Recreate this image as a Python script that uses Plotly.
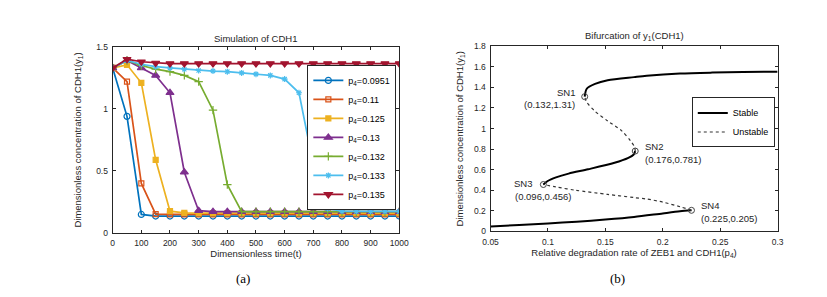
import plotly.graph_objects as go

# ---------------- Panel (a) data ----------------
t = [0, 50, 100, 150, 200, 250, 300, 350, 400, 450, 500,
     550, 600, 650, 700, 750, 800, 850, 900, 950, 1000]

p4_labels = ["p<sub>4</sub>=0.0951", "p<sub>4</sub>=0.11", "p<sub>4</sub>=0.125",
             "p<sub>4</sub>=0.13", "p<sub>4</sub>=0.132", "p<sub>4</sub>=0.133",
             "p<sub>4</sub>=0.135"]

y_0951 = [1.33, 0.94, 0.15, 0.137, 0.137, 0.137, 0.137, 0.137, 0.137, 0.137, 0.137,
          0.137, 0.137, 0.137, 0.137, 0.137, 0.137, 0.137, 0.137, 0.137, 0.137]
y_011 = [1.33, 1.22, 0.40, 0.152, 0.15, 0.15, 0.15, 0.15, 0.15, 0.15, 0.15,
         0.15, 0.15, 0.15, 0.15, 0.15, 0.15, 0.15, 0.15, 0.15, 0.15]
y_0125 = [1.33, 1.355, 1.21, 0.59, 0.176, 0.163, 0.16, 0.16, 0.16, 0.16, 0.16,
          0.16, 0.16, 0.16, 0.16, 0.16, 0.16, 0.16, 0.16, 0.16, 0.16]
y_013 = [1.33, 1.39, 1.33, 1.27, 1.13, 0.49, 0.18, 0.172, 0.172, 0.172, 0.172,
         0.172, 0.172, 0.172, 0.172, 0.172, 0.172, 0.172, 0.172, 0.172, 0.172]
y_0132 = [1.33, 1.39, 1.35, 1.32, 1.30, 1.27, 1.22, 0.99, 0.39, 0.172, 0.172,
          0.172, 0.172, 0.172, 0.172, 0.172, 0.172, 0.172, 0.172, 0.172, 0.172]
y_0133 = [1.33, 1.39, 1.36, 1.34, 1.33, 1.32, 1.31, 1.305, 1.30, 1.29, 1.28,
          1.27, 1.24, 1.13, 0.55, 0.197, 0.176, 0.174, 0.174, 0.174, 0.174]
y_0135 = [1.33, 1.40, 1.38, 1.37, 1.365, 1.365, 1.365, 1.365, 1.365, 1.365, 1.365,
          1.365, 1.365, 1.365, 1.365, 1.365, 1.365, 1.365, 1.365, 1.365, 1.365]

series_a = [y_0951, y_011, y_0125, y_013, y_0132, y_0133, y_0135]
colors_a = ["#0072BD", "#D95319", "#EDB120", "#7E2F8E", "#77AC30", "#4DBEEE", "#A2142F"]
symbols_a = ["circle-open", "square-open", "square", "triangle-up",
             "cross-thin-open", "asterisk-open", "triangle-down"]
sizes_a = [6, 5, 5, 7, 6, 5, 7]

xticks_a = [0, 100, 200, 300, 400, 500, 600, 700, 800, 900, 1000]
yticks_a = [0, 0.5, 1, 1.5]
yticklabels_a = ["0", "0.5", "1", "1.5"]

# ---------------- Panel (b) data ----------------
stable_low_p = [0.05, 0.075, 0.10, 0.125, 0.15, 0.175, 0.20, 0.215, 0.225]
stable_low_y = [0.048, 0.062, 0.078, 0.095, 0.115, 0.14, 0.175, 0.195, 0.205]

unstable_low_p = [0.225, 0.215, 0.20, 0.186, 0.175, 0.152, 0.124, 0.107, 0.096]
unstable_low_y = [0.205, 0.24, 0.285, 0.315, 0.329, 0.36, 0.40, 0.432, 0.456]

stable_mid_p = [0.096, 0.0998, 0.107, 0.118, 0.135, 0.158, 0.170, 0.1745, 0.176]
stable_mid_y = [0.456, 0.49, 0.525, 0.562, 0.604, 0.667, 0.715, 0.745, 0.781]

unstable_high_p = [0.176, 0.1755, 0.172, 0.164, 0.152, 0.141, 0.1335, 0.132]
unstable_high_y = [0.781, 0.82, 0.88, 0.98, 1.074, 1.168, 1.26, 1.31]

stable_high_p = [0.132, 0.1338, 0.141, 0.152, 0.175, 0.186, 0.215, 0.243, 0.27, 0.30]
stable_high_y = [1.31, 1.387, 1.434, 1.47, 1.50, 1.513, 1.535, 1.544, 1.549, 1.553]

sn_names = ["SN1", "SN2", "SN3", "SN4"]
sn_p = [0.132, 0.176, 0.096, 0.225]
sn_y = [1.31, 0.781, 0.456, 0.205]

xticks_b = [0.05, 0.1, 0.15, 0.2, 0.25, 0.3]
xticklabels_b = ["0.05", "0.1", "0.15", "0.2", "0.25", "0.3"]
yticks_b = [0, 0.2, 0.4, 0.6, 0.8, 1, 1.2, 1.4, 1.6, 1.8]
yticklabels_b = ["0", "0.2", "0.4", "0.6", "0.8", "1", "1.2", "1.4", "1.6", "1.8"]

# ---------------- Figure ----------------
W, H = 827, 297
FONT = "Liberation Sans, Arial, sans-serif"
TXT = "#262626"

fig = go.Figure()

for ys, name, c, s, sz in zip(series_a, p4_labels, colors_a, symbols_a, sizes_a):
    fig.add_trace(go.Scatter(
        x=t, y=ys, name=name, mode="lines+markers",
        line=dict(color=c, width=1.7),
        marker=dict(symbol=s, size=sz, color=c, line=dict(color=c, width=1.2)),
        xaxis="x", yaxis="y", legend="legend"))

stable_style = dict(color="black", width=2, shape="spline", smoothing=0.8)
unstable_style = dict(color="#333333", width=1.2, dash="dot", shape="spline", smoothing=0.8)

fig.add_trace(go.Scatter(x=stable_low_p, y=stable_low_y, mode="lines", line=stable_style,
                         name="Stable", legend="legend2", xaxis="x2", yaxis="y2"))
fig.add_trace(go.Scatter(x=unstable_low_p, y=unstable_low_y, mode="lines", line=unstable_style,
                         name="Unstable", legend="legend2", xaxis="x2", yaxis="y2"))
fig.add_trace(go.Scatter(x=stable_mid_p, y=stable_mid_y, mode="lines", line=stable_style,
                         showlegend=False, xaxis="x2", yaxis="y2"))
fig.add_trace(go.Scatter(x=unstable_high_p, y=unstable_high_y, mode="lines", line=unstable_style,
                         showlegend=False, xaxis="x2", yaxis="y2"))
fig.add_trace(go.Scatter(x=stable_high_p, y=stable_high_y, mode="lines", line=stable_style,
                         showlegend=False, xaxis="x2", yaxis="y2"))
fig.add_trace(go.Scatter(x=sn_p, y=sn_y, mode="markers",
                         marker=dict(symbol="circle-open", size=6, color="#444444",
                                     line=dict(width=1, color="#444444")),
                         showlegend=False, xaxis="x2", yaxis="y2"))

LBL = dict(family=FONT, size=9.5, color=TXT)
ann = []
for nm, px, py in zip(sn_names, sn_p, sn_y):
    coord = "(%g,%g)" % (px, py)
    if nm == "SN3":
        ann.append(dict(x=px, y=py, xref="x2", yref="y2", text=nm, showarrow=False,
                        xanchor="right", yanchor="middle", xshift=-9, yshift=1, font=LBL))
        ann.append(dict(x=px, y=py, xref="x2", yref="y2", text=coord, showarrow=False,
                        xanchor="left", yanchor="middle", xshift=-30, yshift=-12, font=LBL))
    elif nm == "SN1":
        ann.append(dict(x=px, y=py, xref="x2", yref="y2", text=nm, showarrow=False,
                        xanchor="right", yanchor="middle", xshift=-8, yshift=4, font=LBL))
        ann.append(dict(x=px, y=py, xref="x2", yref="y2", text=coord, showarrow=False,
                        xanchor="right", yanchor="middle", xshift=-8, yshift=-8, font=LBL))
    else:
        ann.append(dict(x=px, y=py, xref="x2", yref="y2", text=nm, showarrow=False,
                        xanchor="left", yanchor="middle", xshift=8, yshift=5, font=LBL))
        ann.append(dict(x=px, y=py, xref="x2", yref="y2", text=coord, showarrow=False,
                        xanchor="left", yanchor="middle", xshift=8, yshift=-8, font=LBL))

ann.append(dict(x=(107 + 400) / 2 / W, y=1 - 35 / H, xref="paper", yref="paper",
                text="Simulation of CDH1", showarrow=False, xanchor="center", yanchor="middle",
                font=dict(family=FONT, size=9.5, color=TXT)))
ann.append(dict(x=(493 + 787) / 2 / W, y=1 - 32 / H, xref="paper", yref="paper",
                text="Bifurcation of y<sub>1</sub>(CDH1)", showarrow=False,
                xanchor="center", yanchor="middle",
                font=dict(family=FONT, size=9.5, color=TXT)))
ann.append(dict(x=240 / W, y=1 - 283 / H, xref="paper", yref="paper", text="(a)",
                showarrow=False, xanchor="center", yanchor="middle",
                font=dict(family="Liberation Serif, Times New Roman, serif", size=13, color="black")))
ann.append(dict(x=623 / W, y=1 - 283 / H, xref="paper", yref="paper", text="(b)",
                showarrow=False, xanchor="center", yanchor="middle",
                font=dict(family="Liberation Serif, Times New Roman, serif", size=13, color="black")))

axis_common = dict(showline=True, linecolor="#262626", linewidth=1, mirror="ticks",
                   ticks="inside", ticklen=3, tickcolor="#262626", showgrid=False,
                   zeroline=False, tickfont=dict(family=FONT, size=8.5, color=TXT))
TTL = dict(family=FONT, size=9.5, color=TXT)

fig.update_layout(
    width=W, height=H, margin=dict(l=0, r=0, t=0, b=0),
    paper_bgcolor="white", plot_bgcolor="white",
    showlegend=True,
    annotations=ann,
    xaxis=dict(domain=[107 / W, 400 / W], range=[0, 1000], tickvals=xticks_a,
               title=dict(text="Dimensionless time(t)", standoff=0, font=TTL),
               ticklabelstandoff=2, anchor="y", **axis_common),
    yaxis=dict(domain=[(H - 236) / H, (H - 43.3) / H], range=[0, 1.5],
               tickvals=yticks_a, ticktext=yticklabels_a,
               title=dict(text="Dimensionless concentration of CDH1(y<sub>1</sub>)", standoff=12,
                          font=TTL),
               ticklabelstandoff=2, anchor="x", **axis_common),
    xaxis2=dict(domain=[493.3 / W, 786.7 / W], range=[0.05, 0.3], tickvals=xticks_b,
                ticktext=xticklabels_b,
                title=dict(text="Relative degradation rate of ZEB1 and CDH1(p<sub>4</sub>)",
                           standoff=0, font=TTL),
                ticklabelstandoff=2, anchor="y2", **axis_common),
    yaxis2=dict(domain=[(H - 234.3) / H, (H - 42.7) / H], range=[0, 1.8],
                tickvals=yticks_b, ticktext=yticklabels_b,
                title=dict(text="Dimensionless concentration of CDH1(y<sub>1</sub>)", standoff=8,
                           font=TTL),
                ticklabelstandoff=2, anchor="x2", **axis_common),
    legend=dict(x=306 / W, y=1 - 62 / H, xanchor="left", yanchor="top",
                bgcolor="white", bordercolor="#262626", borderwidth=1,
                font=dict(family=FONT, size=9, color="black"),
                tracegroupgap=0, itemwidth=30),
    legend2=dict(x=699 / W, y=1 - 95.7 / H, xanchor="left", yanchor="top",
                 bgcolor="white", bordercolor="#262626", borderwidth=1,
                 font=dict(family=FONT, size=9, color="black"),
                 tracegroupgap=0, itemwidth=30),
)

fig.write_html("out.html", config={"displayModeBar": False},
               post_script=("document.body.style.margin='0';document.body.style.padding='0';"
                            "document.body.style.overflow='hidden';"
                            "document.documentElement.style.overflow='hidden';"))
